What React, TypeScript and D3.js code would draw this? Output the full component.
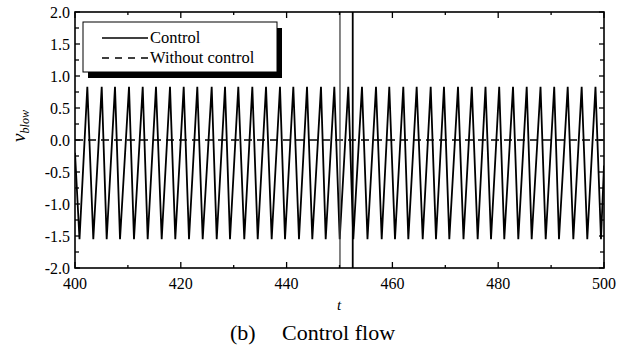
import React from "react";
import * as d3 from "d3";

// ---- data ----
const peakTimes = [
  402.33, 405.05, 407.56, 410.21, 412.8, 415.31, 417.96, 420.55, 423.12, 425.84,
  428.36, 430.87, 433.52, 436.11, 438.75, 441.27, 443.86, 446.5, 449.02, 451.66,
  454.25, 456.9, 459.41, 462.06, 464.59, 467.24, 469.75, 472.4, 475.01, 477.6,
  480.19, 482.8, 485.39, 488.0, 490.59, 493.14, 495.78, 498.39,
];
const troughTimes = [
  400.85, 403.46, 405.99, 408.51, 411.15, 413.74, 416.39, 418.96, 421.55, 424.14,
  426.79, 429.3, 432.0, 434.54, 437.18, 439.7, 442.34, 444.86, 447.39, 450.04,
  452.61, 455.29, 457.98, 460.49, 463.01, 465.73, 468.24, 470.76, 473.44, 476.12,
  478.64, 481.15, 483.8, 486.33, 488.98, 491.49, 494.2, 496.84, 499.43,
];
const peakValue = 0.83;
const troughValue = -1.55;
const startPoint: [number, number] = [400, -0.2];
const endPoint: [number, number] = [500, -0.4];
const spikeTimes = [450.09, 452.5];
const withoutControl: [number, number][] = [
  [400, 0],
  [500, 0],
];
const xTicks = [400, 420, 440, 460, 480, 500];
const xMinorTicks = [410, 430, 450, 470, 490];
const yTicks = [2, 1.5, 1, 0.5, 0, -0.5, -1, -1.5, -2];
const yMinorTicks = [1.75, 1.25, 0.75, 0.25, -0.25, -0.75, -1.25, -1.75];
const legendLabels = ["Control", "Without control"];

const W = 627;
const H = 349;
const plot = { left: 75, right: 604, top: 12, bottom: 268 };
const FONT = "'Liberation Serif', serif";
const tf = { fontFamily: FONT };

export default function App() {
  const x = d3.scaleLinear().domain([400, 500]).range([plot.left, plot.right]);
  const y = d3.scaleLinear().domain([-2, 2]).range([plot.bottom, plot.top]);

  const controlPts: [number, number][] = [
    startPoint,
    ...peakTimes.map((t) => [t, peakValue] as [number, number]),
    ...troughTimes.map((t) => [t, troughValue] as [number, number]),
    endPoint,
  ].sort((a, b) => a[0] - b[0]);

  const line = d3
    .line<[number, number]>()
    .x((d) => x(d[0]))
    .y((d) => y(d[1]));

  const fmt = (v: number) => (v < 0 ? "-" + Math.abs(v).toFixed(1) : v.toFixed(1));

  const lg = { x: 83, y: 22, w: 194, h: 50 };

  return (
    <svg
      width={W}
      height={H}
      style={{ position: "absolute", left: 0, top: 0, background: "#fff", fontFamily: FONT }}
    >
      <rect x={0} y={0} width={W} height={H} fill="#fff" />
      <defs>
        <clipPath id="plotclip">
          <rect
            x={plot.left}
            y={plot.top}
            width={plot.right - plot.left}
            height={plot.bottom - plot.top}
          />
        </clipPath>
      </defs>

      {/* series */}
      <g clipPath="url(#plotclip)">
        <path
          d={line(withoutControl) || ""}
          fill="none"
          stroke="#000"
          strokeWidth={1.5}
          strokeDasharray="8,5"
        />
        <path
          d={line(controlPts) || ""}
          fill="none"
          stroke="#000"
          strokeWidth={1.8}
          strokeLinejoin="miter"
          strokeMiterlimit={3}
        />
        {spikeTimes.map((t, i) => (
          <line
            key={i}
            x1={x(t)}
            x2={x(t)}
            y1={y(2)}
            y2={y(-2)}
            stroke={i === 0 ? "#444" : "#000"}
            strokeWidth={i === 0 ? 1.3 : 1.8}
          />
        ))}
      </g>

      {/* frame */}
      <rect
        x={plot.left}
        y={plot.top}
        width={plot.right - plot.left}
        height={plot.bottom - plot.top}
        fill="none"
        stroke="#000"
        strokeWidth={1.6}
      />

      {/* x ticks */}
      {xTicks.map((t) => (
        <g key={"xt" + t}>
          <line x1={x(t)} x2={x(t)} y1={plot.bottom} y2={plot.bottom - 6} stroke="#000" strokeWidth={1.3} />
          <line x1={x(t)} x2={x(t)} y1={plot.top} y2={plot.top + 6} stroke="#000" strokeWidth={1.3} />
          <text x={x(t)} y={289} fontSize={16} textAnchor="middle" style={tf}>
            {t}
          </text>
        </g>
      ))}
      {xMinorTicks.map((t) => (
        <g key={"xm" + t}>
          <line x1={x(t)} x2={x(t)} y1={plot.bottom} y2={plot.bottom - 3} stroke="#000" strokeWidth={1.3} />
          <line x1={x(t)} x2={x(t)} y1={plot.top} y2={plot.top + 3} stroke="#000" strokeWidth={1.3} />
        </g>
      ))}

      {/* y ticks */}
      {yTicks.map((v) => (
        <g key={"yt" + v}>
          <line x1={plot.left} x2={plot.left + 5} y1={y(v)} y2={y(v)} stroke="#000" strokeWidth={1.3} />
          <line x1={plot.right} x2={plot.right - 5} y1={y(v)} y2={y(v)} stroke="#000" strokeWidth={1.3} />
          <text x={70} y={y(v) + 5.5} fontSize={16} textAnchor="end" style={tf}>
            {fmt(v)}
          </text>
        </g>
      ))}
      {yMinorTicks.map((v) => (
        <g key={"ym" + v}>
          <line x1={plot.left} x2={plot.left + 4} y1={y(v)} y2={y(v)} stroke="#000" strokeWidth={1.3} />
          <line x1={plot.right} x2={plot.right - 4} y1={y(v)} y2={y(v)} stroke="#000" strokeWidth={1.3} />
        </g>
      ))}

      {/* axis titles */}
      <text
        transform={`translate(25, 126) rotate(-90)`}
        textAnchor="middle"
        fontStyle="italic"
        fontSize={19}
        style={tf}
      >
        v<tspan fontSize={12} dy={4}>blow</tspan>
      </text>
      <text x={339} y={310} fontStyle="italic" fontSize={15} textAnchor="middle" style={tf}>
        t
      </text>

      {/* legend */}
      <rect x={lg.x + 5} y={lg.y + 6} width={lg.w} height={lg.h} fill="#000" />
      <rect x={lg.x} y={lg.y} width={lg.w} height={lg.h} fill="#fff" stroke="#000" strokeWidth={1} />
      <line x1={102} x2={148} y1={38} y2={38} stroke="#000" strokeWidth={1.5} />
      <line x1={102} x2={148} y1={58} y2={58} stroke="#000" strokeWidth={1.4} strokeDasharray="7,6" />
      <text x={150} y={43} fontSize={16.5} style={tf}>
        {legendLabels[0]}
      </text>
      <text x={150} y={63} fontSize={16.5} style={tf}>
        {legendLabels[1]}
      </text>

      {/* caption */}
      <text x={230} y={340} fontSize={22} style={tf}>
        (b)
      </text>
      <text x={282} y={340} fontSize={22} style={tf}>
        Control flow
      </text>
    </svg>
  );
}
